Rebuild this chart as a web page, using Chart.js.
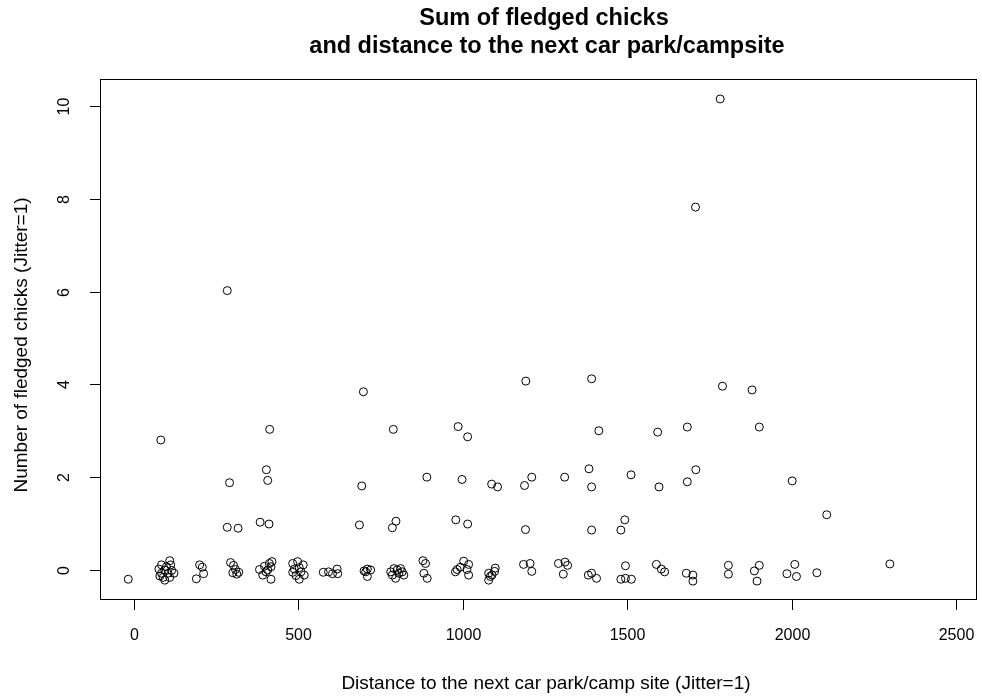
<!DOCTYPE html>
<html>
<head>
<meta charset="utf-8">
<title>Sum of fledged chicks</title>
<script src="https://cdn.jsdelivr.net/npm/chart.js@4.4.1/dist/chart.umd.min.js"></script>
<style>
  html, body { margin: 0; padding: 0; background: #fff; }
  #wrap { width: 982px; height: 699px; }
</style>
</head>
<body>
<div id="wrap"><canvas id="chart" width="982" height="699"></canvas></div>
<script>
// ─── Data ───
const distance = [
  -17,
  109, 84, 112, 99, 76, 94, 115, 84, 104, 122, 89, 109, 94, 79,
  200, 208, 212, 190,
  294, 303, 309, 319, 301, 313,
  382, 397, 412, 420, 417, 407, 392, 417, 402,
  483, 498, 515, 488, 503, 508, 493, 518, 483, 503,
  576, 592, 604, 618, 620,
  700, 710, 720, 710, 705,
  781, 791, 801, 811, 786, 796, 821, 806, 816,
  879, 887, 882, 892,
  978, 993, 1003, 1018, 1013, 1018, 983,
  1079, 1084, 1079, 1099, 1097, 1089,
  1185, 1205, 1210,
  1291, 1311, 1319, 1306,
  1382, 1392, 1407,
  1495, 1481, 1495, 1513,
  1589, 1604, 1614,
  1680, 1700, 1700,
  1808, 1808,
  1902, 1887, 1895,
  2010, 1986, 2015,
  2077, 2299,
  // around 1
  284, 317, 384, 411, 686, 786, 797, 979, 1015, 1191, 1392, 1481, 1493, 2107,
  // around 2
  291, 403, 407, 693, 891, 998, 1088, 1106, 1188, 1210,
  1310, 1384, 1392, 1512, 1597, 1683, 1709, 2002,
  // around 3
  82, 413, 789, 986, 1015, 1414, 1593, 1683, 1902,
  // around 4 and above
  698, 1192, 1392, 1790, 1880, 284, 1708, 1783,
];

const chicks = [
  -0.20,
  0.20, 0.11, 0.11, 0.07, 0.02, 0.00, -0.01, -0.07, -0.07, -0.07, -0.16, -0.16, -0.22, -0.13,
  0.11, 0.06, -0.08, -0.19,
  0.16, 0.10, 0.01, -0.05, -0.06, -0.09,
  0.01, 0.08, 0.14, 0.18, 0.07, 0.00, -0.11, -0.20, -0.04,
  0.14, 0.18, 0.11, 0.02, 0.05, -0.04, -0.12, -0.11, -0.05, -0.20,
  -0.05, -0.04, -0.08, 0.02, -0.08,
  -0.02, 0.02, 0.00, -0.14, -0.04,
  -0.04, 0.03, 0.00, 0.03, -0.11, -0.18, -0.11, -0.07, -0.04,
  0.20, 0.14, -0.07, -0.18,
  -0.04, 0.06, 0.19, 0.12, 0.01, -0.11, 0.01,
  -0.07, -0.14, -0.22, 0.04, -0.03, -0.11,
  0.12, 0.14, -0.03,
  0.14, 0.17, 0.10, -0.09,
  -0.11, -0.07, -0.18,
  0.09, -0.20, -0.18, -0.20,
  0.12, 0.02, -0.04,
  -0.07, -0.11, -0.24,
  0.10, -0.09,
  0.10, -0.02, -0.24,
  0.12, -0.08, -0.14,
  -0.06, 0.13,
  0.92, 0.90, 1.03, 0.99, 0.97, 0.91, 1.05, 1.08, 0.99, 0.87, 0.86, 0.86, 1.08, 1.19,
  1.88, 2.16, 1.93, 1.81, 2.00, 1.95, 1.85, 1.79, 1.82, 2.00,
  2.00, 2.18, 1.79, 2.05, 1.79, 1.90, 2.16, 1.92,
  2.80, 3.03, 3.03, 3.09, 2.87, 3.00, 2.97, 3.08, 3.08,
  3.84, 4.07, 4.12, 3.96, 3.88, 6.02, 7.82, 10.15,
];

const xTicks = [0, 500, 1000, 1500, 2000, 2500];
const yTicks = [0, 2, 4, 6, 8, 10];

const titleLines = ['Sum of fledged chicks', 'and distance to the next car park/campsite'];
const xTitle = 'Distance to the next car park/camp site (Jitter=1)';
const yTitle = 'Number of fledged chicks (Jitter=1)';

const FONT = '"Liberation Sans", Arial, Helvetica, sans-serif';

// ─── R-style frame, ticks and labels ───
const baseGraphics = {
  id: 'baseGraphics',
  afterDraw(chart) {
    const { ctx, chartArea: a, scales: { x, y } } = chart;
    ctx.save();
    ctx.strokeStyle = '#000';
    ctx.fillStyle = '#000';
    ctx.lineWidth = 1;

    // box
    ctx.strokeRect(a.left + 0.5, a.top + 0.5, a.right - a.left - 1, a.bottom - a.top - 1);

    // x ticks
    ctx.font = `16px ${FONT}`;
    ctx.textAlign = 'center';
    ctx.textBaseline = 'middle';
    xTicks.forEach((v) => {
      const px = Math.round(x.getPixelForValue(v)) + 0.5;
      ctx.beginPath();
      ctx.moveTo(px, a.bottom);
      ctx.lineTo(px, a.bottom + 10);
      ctx.stroke();
      ctx.fillText(String(v), px, a.bottom + 36);
    });

    // y ticks (labels rotated like R's default las=0)
    yTicks.forEach((v) => {
      const py = Math.round(y.getPixelForValue(v)) + 0.5;
      ctx.beginPath();
      ctx.moveTo(a.left, py);
      ctx.lineTo(a.left - 10, py);
      ctx.stroke();
      ctx.save();
      ctx.translate(a.left - 35, py);
      ctx.rotate(-Math.PI / 2);
      ctx.fillText(String(v), 0, 0);
      ctx.restore();
    });

    // axis titles
    ctx.font = `19px ${FONT}`;
    ctx.fillText(xTitle, 546, 684);
    ctx.save();
    ctx.translate(22, 345);
    ctx.rotate(-Math.PI / 2);
    ctx.fillText(yTitle, 0, 0);
    ctx.restore();

    // main title
    ctx.font = `bold 23.5px ${FONT}`;
    ctx.fillText(titleLines[0], 544, 19);
    ctx.fillText(titleLines[1], 547, 47);
    ctx.restore();
  },
};

new Chart(document.getElementById('chart'), {
  type: 'scatter',
  data: {
    datasets: [{
      data: distance.map((d, i) => ({ x: d, y: chicks[i] })),
      pointStyle: 'circle',
      pointRadius: 4,
      pointHoverRadius: 4,
      borderColor: '#000',
      borderWidth: 1,
      backgroundColor: 'rgba(0,0,0,0)',
    }],
  },
  options: {
    responsive: false,
    animation: false,
    layout: { padding: { left: 100, right: 2, top: 79, bottom: 99 } },
    plugins: { legend: { display: false }, tooltip: { enabled: false } },
    scales: {
      x: { type: 'linear', min: -103, max: 2564, display: false },
      y: { type: 'linear', min: -0.647, max: 10.58, display: false },
    },
  },
  plugins: [baseGraphics],
});
</script>
</body>
</html>
